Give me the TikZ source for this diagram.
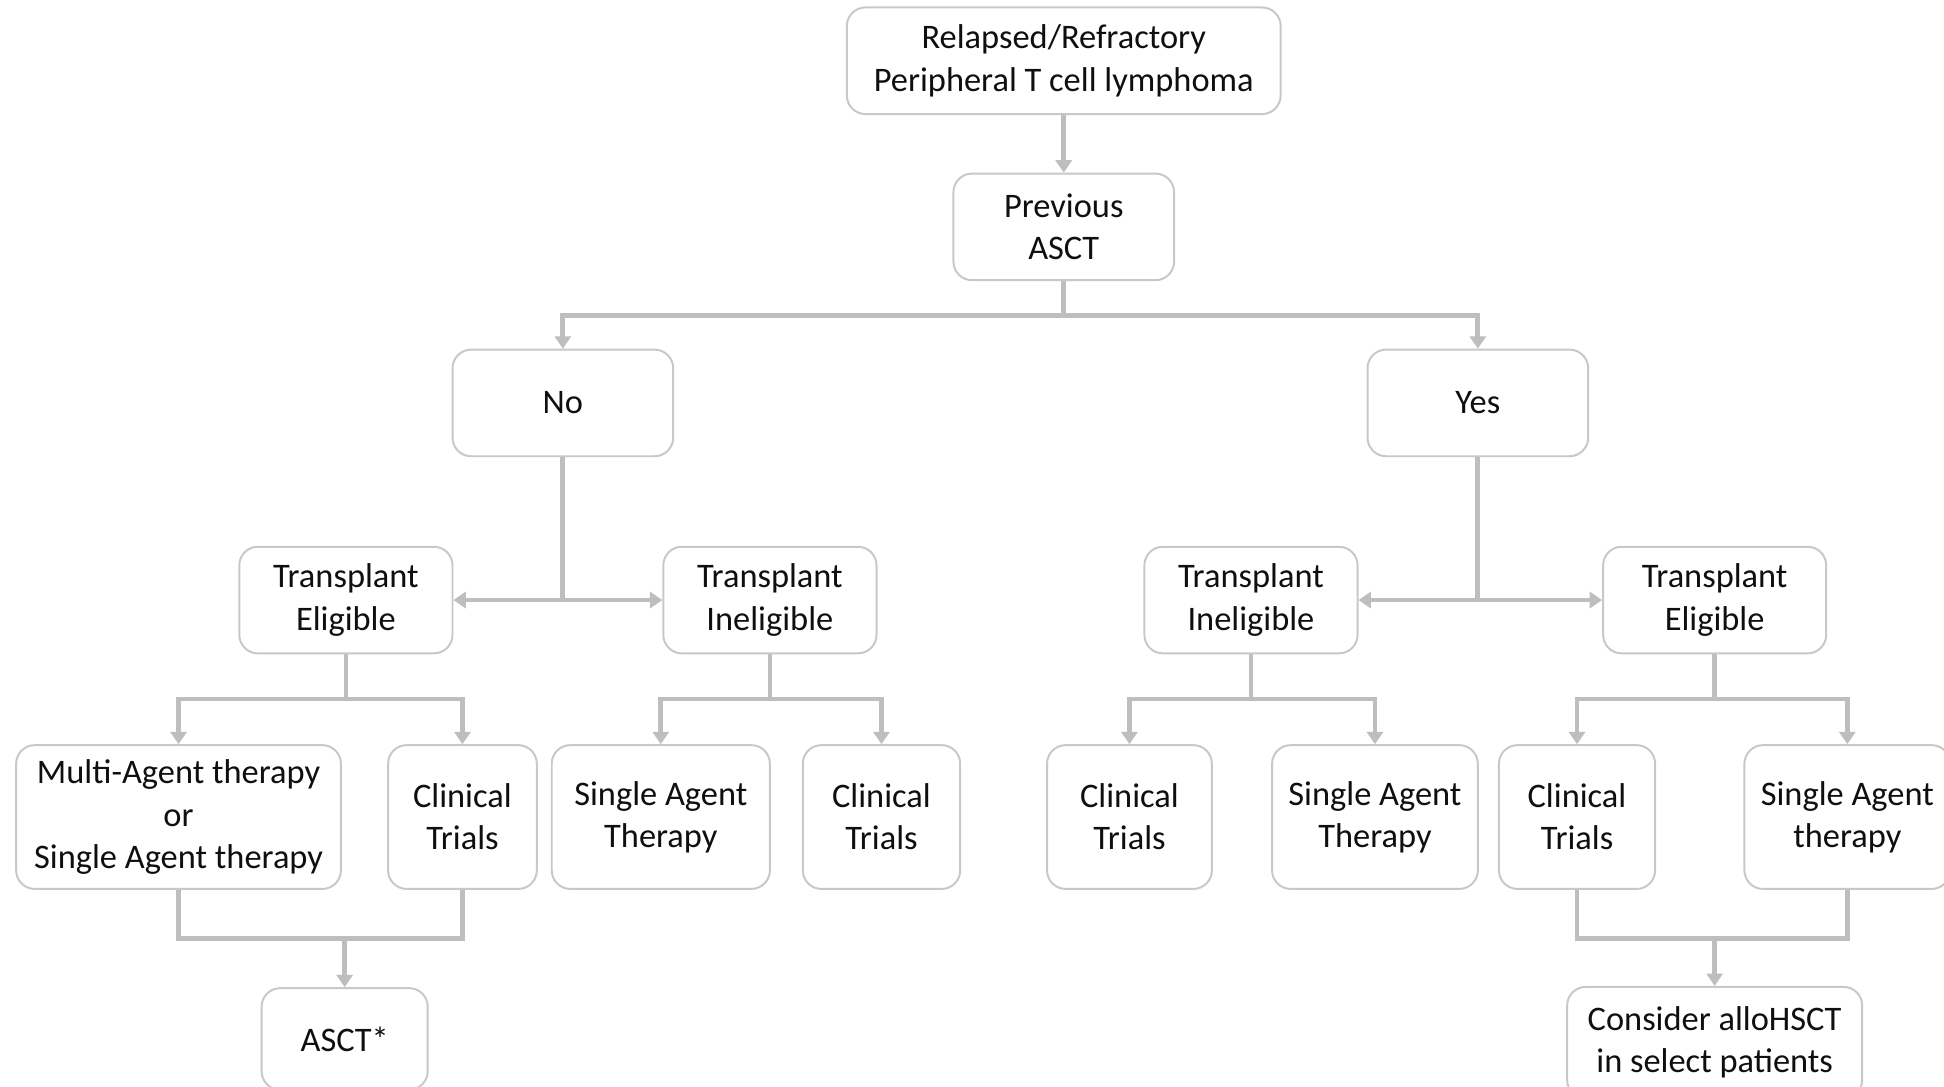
\documentclass[tikz,border=0pt]{standalone}
\usepackage{fontspec}
\setmainfont{Carlito}
\usetikzlibrary{shapes,arrows.meta}
\usetikzlibrary{calc}
\definecolor{cLine}{RGB}{190,190,190}
\definecolor{cBox}{RGB}{200,200,200}
\definecolor{cText}{RGB}{15,15,15}

\begin{document}
\begin{tikzpicture}[x=0.02cm, y=-0.02cm,
		box/.style={draw=cBox, line width=0.9pt, rounded corners=0.3cm, align=center, text=cText,
			font={\fontsize{15.8}{19.4}\selectfont}, inner sep=0pt, minimum height=1.72cm},
		tall/.style={box, minimum height=2.32cm},
		line/.style={draw=cLine, line width=2.2pt},
		arr/.style={line, -{Triangle[width=0.26cm, length=0.2cm]}}]
		\clip (0,0) rectangle (1568,876);
		\fill[white] (0,0) rectangle (1568,876);
		% top of the tree
		\node[box, minimum width=7cm] (ptcl) at (858,49) {Relapsed/Refractory\\Peripheral T cell lymphoma};
		\node[box, minimum width=3.56cm] (prev) at (858,183) {Previous\\ASCT};
		\node[box, minimum width=3.56cm] (no) at (454,325) {No};
		\node[box, minimum width=3.56cm] (yes) at (1192,325) {Yes};
		% transplant status
		\node[box, minimum width=3.44cm] (teL) at (279,484) {Transplant\\Eligible};
		\node[box, minimum width=3.44cm] (tiL) at (621,484) {Transplant\\Ineligible};
		\node[box, minimum width=3.44cm] (tiR) at (1009,484) {Transplant\\Ineligible};
		\node[box, minimum width=3.6cm] (teR) at (1383,484) {Transplant\\Eligible};
		% therapies
		\node[tall, minimum width=5.24cm] (multi) at (144,659) {Multi-Agent therapy\\or\\Single Agent therapy};
		\node[tall, minimum width=2.4cm] (ctA) at (373,659) {Clinical\\Trials};
		\node[tall, minimum width=3.52cm] (saA) at (533,659) {Single Agent\\Therapy};
		\node[tall, minimum width=2.54cm] (ctB) at (711,659) {Clinical\\Trials};
		\node[tall, minimum width=2.66cm] (ctC) at (911,659) {Clinical\\Trials};
		\node[tall, minimum width=3.32cm] (saC) at (1109,659) {Single Agent\\Therapy};
		\node[tall, minimum width=2.52cm] (ctD) at (1272,659) {Clinical\\Trials};
		\node[tall, minimum width=3.32cm] (saD) at (1490,659) {Single Agent\\therapy};
		% outcomes
		\node[box, minimum width=2.68cm, minimum height=1.64cm] (asct) at (278,838) {ASCT*};
		\node[box, minimum width=4.76cm, minimum height=1.8cm] (allo) at (1383,841) {Consider alloHSCT\\in select patients};
		\coordinate (jL) at (278,757);
		\coordinate (jR) at (1383,757);

		\draw[arr] (ptcl.south) -- (prev.north);
		\draw[arr] (prev.south) -- ++(0,28) -| (no.north);
		\draw[arr] (prev.south) -- ++(0,28) -| (yes.north);
		\draw[arr] (no.south) |- (teL.east);
		\draw[arr] (no.south) |- (tiL.west);
		\draw[arr] (yes.south) |- (tiR.east);
		\draw[arr] (yes.south) |- (teR.west);
		\draw[arr] (teL.south) -- ++(0,36) -| (multi.north);
		\draw[arr] (teL.south) -- ++(0,36) -| (ctA.north);
		\draw[arr] (tiL.south) -- ++(0,36) -| (saA.north);
		\draw[arr] (tiL.south) -- ++(0,36) -| (ctB.north);
		\draw[arr] (tiR.south) -- ++(0,36) -| (ctC.north);
		\draw[arr] (tiR.south) -- ++(0,36) -| (saC.north);
		\draw[arr] (teR.south) -- ++(0,36) -| (ctD.north);
		\draw[arr] (teR.south) -- ++(0,36) -| (saD.north);
		\draw[line] (multi.south) |- (jL) -| (ctA.south);
		\draw[arr] (jL) -- (asct.north);
		\draw[line] (ctD.south) |- (jR) -| (saD.south);
		\draw[arr] (jR) -- (allo.north);
\end{tikzpicture}
\end{document}
